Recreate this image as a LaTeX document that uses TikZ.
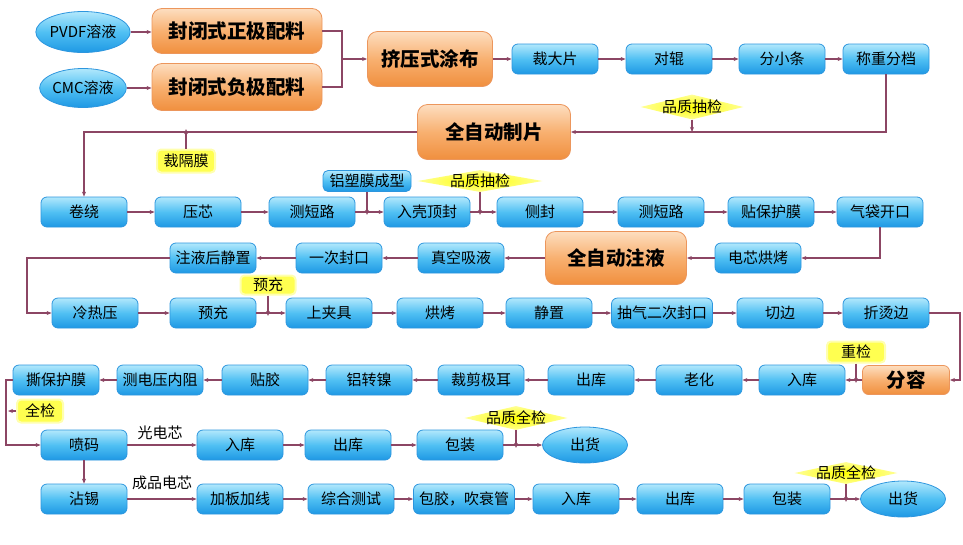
\documentclass[tikz,border=0pt]{standalone}
\usepackage{fontspec}
\setmainfont{Noto Sans CJK SC}
\usetikzlibrary{shapes.geometric,arrows.meta}
\definecolor{ln}{RGB}{140,70,100}
\definecolor{btop}{RGB}{178,232,252}
\definecolor{bmid}{RGB}{80,192,243}
\definecolor{bbot}{RGB}{30,152,228}
\definecolor{bborder}{RGB}{45,150,222}
\definecolor{otop}{RGB}{253,222,192}
\definecolor{omid}{RGB}{248,176,112}
\definecolor{obot}{RGB}{240,143,62}
\definecolor{oborder}{RGB}{236,150,92}
\definecolor{ylw}{RGB}{255,255,80}
\definecolor{ylwglow}{RGB}{255,255,175}
\definecolor{dinner}{RGB}{255,255,0}
\definecolor{douter}{RGB}{255,255,150}
\tikzset{
  bbox/.style={rectangle, rounded corners=6pt, draw=bborder, line width=0.8pt,
    top color=btop, bottom color=bbot, middle color=bmid,
    minimum width=86pt, minimum height=30pt, inner sep=1pt,
    font=\fontsize{15}{16}\selectfont},
  obox/.style={rectangle, rounded corners=10pt, draw=oborder, line width=0.8pt,
    top color=otop, bottom color=obot, middle color=omid, inner sep=1pt,
    font=\bfseries\fontsize{19.5}{21}\selectfont},
  ybox/.style={rectangle, rounded corners=4pt, fill=ylw, draw=ylwglow, line width=2pt,
    inner sep=1pt, font=\fontsize{15}{16}\selectfont},
  qdia/.style={diamond, inner sep=0pt, shade, inner color=dinner, outer color=douter,
    minimum width=103pt},
  ell/.style={ellipse, draw=bborder, line width=0.8pt, inner sep=0pt,
    top color=btop, bottom color=bbot, middle color=bmid,
    minimum width=86pt, minimum height=38pt, font=\fontsize{15}{16}\selectfont},
  plain/.style={inner sep=0pt, font=\fontsize{15}{16}\selectfont},
  conn/.style={draw=ln, line width=1.1pt},
  arr/.style={conn, -{Stealth[length=5pt,width=4pt]}},
  qlab/.style={font=\fontsize{15}{16}\selectfont, inner sep=0pt}
}
\begin{document}
\begin{tikzpicture}[x=1pt,y=-1pt]
\useasboundingbox (0,0) rectangle (963,544);
% Row 1
\node[ell, minimum height=41pt] (pvdf) at (83,32) {PVDF溶液};
\node[ell, minimum height=39pt] (cmc) at (83,88) {CMC溶液};
\node[obox, minimum width=170pt, minimum height=45pt] (zp) at (237,31) {封闭式正极配料};
\node[obox, minimum width=170pt, minimum height=47pt] (fp) at (237,87) {封闭式负极配料};
\coordinate (m1) at (342,59);
\node[obox, minimum width=125pt, minimum height=55pt] (tb) at (430,59) {挤压式涂布};
\node[bbox] (cdp) at (555,59) {裁大片};
\node[bbox] (dg) at (669,59) {对辊};
\node[bbox] (fxt) at (782,59) {分小条};
\node[bbox] (czfd) at (886,59) {称重分档};
\node[qdia, minimum height=25pt, label={[qlab]center:品质抽检}] (qc1) at (692,107) {};
\node[obox, minimum width=153pt, minimum height=55pt] (zdzp) at (494,132) {全自动制片};
\node[ybox, minimum width=58pt, minimum height=23pt] (cgm) at (186,161) {裁隔膜};
% Row 3
\node[bbox] (jr) at (84,212) {卷绕};
\node[bbox] (yx) at (198,212) {压芯};
\node[bbox] (dl1) at (312,212) {测短路};
\node[bbox] (rk) at (427,212) {入壳顶封};
\node[bbox] (cf) at (540,212) {侧封};
\node[bbox] (dl2) at (661,212) {测短路};
\node[bbox] (bhm) at (771,212) {贴保护膜};
\node[bbox] (qd) at (880,212) {气袋开口};
\node[bbox, minimum width=88pt, minimum height=21pt, rounded corners=5pt] (lsm) at (367,181) {铝塑膜成型};
\node[qdia, minimum width=125pt, minimum height=22pt, label={[qlab]center:品质抽检}] (qc2) at (480,181) {};
% Row 4
\node[bbox] (dxhk) at (758,258) {电芯烘烤};
\node[obox, minimum width=141pt, minimum height=53pt] (zdzy) at (616,258) {全自动注液};
\node[bbox] (zkxy) at (461,258) {真空吸液};
\node[bbox] (yc1) at (339,258) {一次封口};
\node[bbox] (jz) at (213,258) {注液后静置};
\coordinate (l1) at (27,258);
% Row 5
\node[bbox] (rp) at (95,313) {冷热压};
\node[bbox] (yc) at (213,313) {预充};
\node[bbox] (sjj) at (329,313) {上夹具};
\node[bbox] (hk) at (440,313) {烘烤};
\node[bbox] (jz2) at (549,313) {静置};
\node[bbox, minimum width=101pt] (cq) at (662,313) {抽气二次封口};
\node[bbox] (qb) at (780,313) {切边};
\node[bbox] (ztb) at (886,313) {折烫边};
\node[ybox, minimum width=55pt, minimum height=19pt] (ycl) at (268,285) {预充};
\coordinate (r1) at (960,313);
% Row 6
\node[obox, minimum width=87pt, minimum height=29pt, rounded corners=6pt] (fr) at (906,380) {分容};
\node[bbox] (rk2) at (802,380) {入库};
\node[bbox] (lh) at (699,380) {老化};
\node[bbox] (ck) at (591,380) {出库};
\node[bbox] (jj) at (481,380) {裁剪极耳};
\node[bbox] (lzn) at (369,380) {铝转镍};
\node[bbox] (tj) at (265,380) {贴胶};
\node[bbox] (cdy) at (160,380) {测电压内阻};
\node[bbox] (sbh) at (56,380) {撕保护膜};
\node[ybox, minimum width=58pt, minimum height=21pt] (cj) at (856,352) {重检};
\coordinate (l2) at (6,380);
\node[ybox, minimum width=46pt, minimum height=23pt] (qj) at (40,411) {全检};
% Row 7
\node[bbox] (pm) at (84,445) {喷码};
\node[bbox] (rk3) at (240,445) {入库};
\node[bbox] (ck3) at (348,445) {出库};
\node[bbox] (bz) at (460,445) {包装};
\node[ell, minimum width=85pt, minimum height=36pt] (ch) at (585,445) {出货};
\node[plain] (gdx) at (160,433) {光电芯};
\node[qdia, minimum height=24pt, label={[qlab]center:品质全检}] (qc3) at (516,418) {};
% Row 8
\node[bbox] (zx) at (84,499) {沾锡};
\node[bbox] (jbjx) at (240,499) {加板加线};
\node[bbox] (zhcs) at (351,499) {综合测试};
\node[bbox, minimum width=101pt] (bj) at (464,499) {包胶，吹衰管};
\node[bbox] (rk4) at (576,499) {入库};
\node[bbox] (ck4) at (680,499) {出库};
\node[bbox] (bz2) at (787,499) {包装};
\node[ell, minimum width=85pt, minimum height=36pt] (ch2) at (903,499) {出货};
\node[plain] (cpdx) at (162,483) {成品电芯};
\node[qdia, minimum height=22pt, label={[qlab]center:品质全检}] (qc4) at (846,473) {};
% Connectors
\draw[arr] (pvdf.east) -- (pvdf.east -| zp.west);
\draw[arr] (cmc.east) -- (cmc.east -| fp.west);
\draw[conn] (zp.east) -| (m1);
\draw[conn] (fp.east) -| (m1);
\draw[arr] (m1) -- (tb.west);
\draw[arr] (tb) -- (cdp);
\draw[arr] (cdp) -- (dg);
\draw[arr] (dg) -- (fxt);
\draw[arr] (fxt) -- (czfd);
\draw[arr] (czfd.south) |- (zdzp.east);
\draw[arr] (qc1.south) -- (qc1.south |- zdzp.east);
\draw[arr] (zdzp.west) -| (jr.north);
\draw[arr] (cgm.north) -- ([yshift=3pt]cgm.north |- zdzp.west);
\draw[arr] (jr) -- (yx);
\draw[arr] (yx) -- (dl1);
\draw[arr] (dl1) -- (rk);
\draw[arr] (rk) -- (cf);
\draw[arr] (cf) -- (dl2);
\draw[arr] (dl2) -- (bhm);
\draw[arr] (bhm) -- (qd);
\draw[arr] (lsm.south) -- ([yshift=-3pt]lsm.south |- dl1.east);
\draw[arr] (qc2.south) -- ([yshift=-3pt]qc2.south |- rk.east);
\draw[arr] (qd.south) |- (dxhk.east);
\draw[arr] (dxhk) -- (zdzy);
\draw[arr] (zdzy) -- (zkxy);
\draw[arr] (zkxy) -- (yc1);
\draw[arr] (yc1) -- (jz);
\draw[arr] (jz.west) -- (l1) |- (rp.west);
\draw[arr] (rp) -- (yc);
\draw[arr] (yc) -- (sjj);
\draw[arr] (sjj) -- (hk);
\draw[arr] (hk) -- (jz2);
\draw[arr] (jz2) -- (cq);
\draw[arr] (cq) -- (qb);
\draw[arr] (qb) -- (ztb);
\draw[arr] (ycl.south) -- ([yshift=-3pt]ycl.south |- yc.east);
\draw[arr] (ztb.east) -- (r1) |- (fr.east);
\draw[arr] (fr) -- (rk2);
\draw[arr] (rk2) -- (lh);
\draw[arr] (lh) -- (ck);
\draw[arr] (ck) -- (jj);
\draw[arr] (jj) -- (lzn);
\draw[arr] (lzn) -- (tj);
\draw[arr] (tj) -- (cdy);
\draw[arr] (cdy) -- (sbh);
\draw[arr] (cj.south) -- ([yshift=-3pt]cj.south |- fr.west);
\draw[arr] (sbh.west) -- (l2) |- (pm.west);
\draw[arr] (qj.west) -- ([xshift=2pt]qj.west -| l2);
\draw[arr] (pm) -- (rk3);
\draw[arr] (rk3) -- (ck3);
\draw[arr] (ck3) -- (bz);
\draw[arr] (bz) -- (ch);
\draw[arr] (qc3.south) -- ([yshift=-3pt]qc3.south |- bz.east);
\draw[arr] (pm) -- (zx);
\draw[arr] (zx) -- (jbjx);
\draw[arr] (jbjx) -- (zhcs);
\draw[arr] (zhcs) -- (bj);
\draw[arr] (bj) -- (rk4);
\draw[arr] (rk4) -- (ck4);
\draw[arr] (ck4) -- (bz2);
\draw[arr] (bz2) -- (ch2);
\draw[arr] (qc4.south) -- ([yshift=-3pt]qc4.south |- bz2.east);
\end{tikzpicture}
\end{document}
